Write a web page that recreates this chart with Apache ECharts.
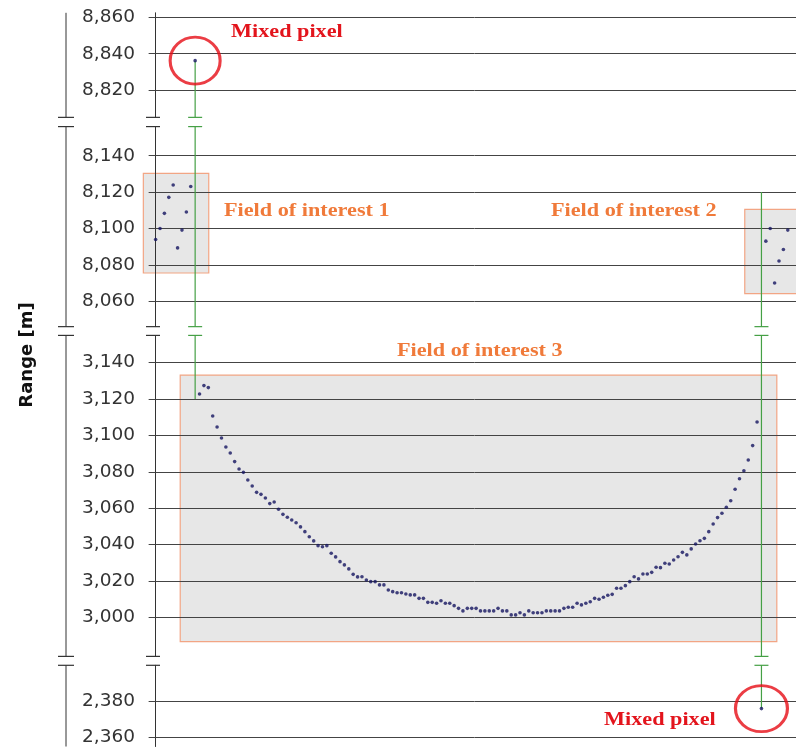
<!DOCTYPE html>
<html><head><meta charset="utf-8">
<script src="https://cdn.jsdelivr.net/npm/echarts@6/dist/echarts.min.js"></script>
<style>html,body{margin:0;padding:0;background:#fff}#c{width:796px;height:747px}</style>
</head><body><div id="c"></div>
<script>
// ---------------- data (sample index along scan, range in metres) ----------------
const field1Start = 0;
const field1Range = [8093.9, 8100.0, 8108.3, 8117.1, 8123.9, 8089.3, 8099.1, 8109.0, 8123.1];
const mixedTopIndex = 9;
const mixedTopRange = 8836.2;
const curveStart = 10;
const curveRange = [
  3122.8, 3127.4, 3126.3, 3110.7, 3104.6, 3098.6, 3093.6, 3090.3, 3085.6, 3081.5,
  3079.7, 3075.5, 3072.2, 3068.7, 3067.6, 3065.6, 3062.5, 3063.4, 3059.4, 3056.6,
  3055.0, 3053.5, 3052.0, 3049.7, 3047.1, 3044.3, 3042.0, 3039.4, 3038.8, 3039.4,
  3035.2, 3033.2, 3030.6, 3028.8, 3026.6, 3023.6, 3022.2, 3022.3, 3020.5, 3019.6,
  3019.6, 3017.8, 3017.8, 3015.0, 3014.1, 3013.5, 3013.5, 3012.8, 3012.3, 3012.3,
  3010.4, 3010.4, 3008.2, 3008.2, 3007.7, 3009.1, 3007.7, 3007.7, 3006.4, 3004.9,
  3003.5, 3004.9, 3004.9, 3004.9, 3003.5, 3003.5, 3003.5, 3003.5, 3004.9, 3003.5,
  3003.5, 3001.3, 3001.3, 3002.5, 3001.3, 3003.5, 3002.5, 3002.5, 3002.5, 3003.5,
  3003.5, 3003.5, 3003.5, 3004.9, 3005.5, 3005.5, 3007.7, 3006.8, 3007.7, 3008.5,
  3010.4, 3009.9, 3011.0, 3012.1, 3012.6, 3016.0, 3016.0, 3017.4, 3019.6, 3022.3,
  3021.1, 3023.8, 3023.8, 3024.7, 3027.5, 3027.3, 3029.7, 3029.3, 3031.5, 3033.3,
  3035.7, 3034.3, 3037.6, 3040.3, 3042.1, 3043.4, 3047.1, 3051.3, 3054.8, 3057.2,
  3060.5, 3064.1, 3070.4, 3076.2, 3080.6, 3086.5, 3094.4, 3107.4
];
const mixedBottomIndex = 138;
const mixedBottomRange = 2376.0;
const field2Start = 139;
const field2Range = [8093.0, 8100.0, 8070.0, 8082.1, 8088.4, 8099.1];

// jump lines (index, from, to)
const jumpIndex = [9, 138];
const jumpFrom = [8836.2, 8120];
const jumpTo = [3120, 2376.0];

// broken axis panels
const panelMin = [8805, 8046, 2978.5, 2355];
const panelMax = [8862.5, 8156, 3155, 2400];
const panelTicks = [
  [8820, 8840, 8860],
  [8060, 8080, 8100, 8120, 8140],
  [3000, 3020, 3040, 3060, 3080, 3100, 3120, 3140],
  [2360, 2380]
];

// fields of interest: panel, x extent, range extent
const boxPanel = [1, 1, 2];
const boxX0 = [-2.8, 134.2, 5.6];
const boxX1 = [12.1, 150, 141.5];
const boxY0 = [8075.5, 8064.2, 2986.6];
const boxY1 = [8130.3, 8110.5, 3133.2];
const boxLabels = ['Field of interest 1', 'Field of interest 2', 'Field of interest 3'];
const mixedLabel = 'Mixed pixel';
const yTitle = 'Range [m]';

// ---------------- layout ----------------
const PX_PER_M = 1.8186;
const gridTops = [12.8, 126.6, 335.4, 665.3];
const gridLeft = 153;
const xMin = -0.6, xMax = 145.87;

const samples = [];
field1Range.forEach((v, i) => samples.push([field1Start + i, v]));
curveRange.forEach((v, i) => samples.push([curveStart + i, v]));
field2Range.forEach((v, i) => samples.push([field2Start + i, v]));
samples.push([mixedTopIndex, mixedTopRange]);
samples.push([mixedBottomIndex, mixedBottomRange]);

const fmt = v => Number(v).toLocaleString('en-US');

const grids = [], xAxes = [], yAxes = [], series = [];
for (let p = 0; p < 4; p++) {
  const h = (panelMax[p] - panelMin[p]) * PX_PER_M;
  grids.push({ left: gridLeft, right: 0, top: gridTops[p], height: h, containLabel: false });
  xAxes.push({ type: 'value', gridIndex: p, min: xMin, max: xMax, show: false });
  yAxes.push({
    type: 'value', gridIndex: p, min: panelMin[p], max: panelMax[p], position: 'left',
    axisLine: { show: true, lineStyle: { color: '#333', width: 1 } },
    axisTick: { show: true, inside: false, length: 7, customValues: panelTicks[p], lineStyle: { color: '#444' } },
    axisLabel: { customValues: panelTicks[p], formatter: fmt, margin: 18, color: '#333',
      fontFamily: 'DejaVu Sans', fontSize: 18.5 },
    splitLine: { show: true, lineStyle: { color: '#444', width: 1 } }
  });
  // field boxes
  const bd = [];
  boxPanel.forEach((bp, i) => { if (bp === p) bd.push([boxX0[i], boxX1[i], boxY0[i], boxY1[i]]); });
  if (bd.length) {
    series.push({
      type: 'custom', xAxisIndex: p, yAxisIndex: p, z: -1, clip: false, silent: true,
      encode: { x: [0, 1], y: [2, 3] },
      data: bd,
      renderItem: (params, api) => {
        const a = api.coord([api.value(0), api.value(3)]);
        const b = api.coord([api.value(1), api.value(2)]);
        return { type: 'rect', shape: { x: a[0], y: a[1], width: b[0] - a[0], height: b[1] - a[1] },
          style: { fill: '#e7e7e7', stroke: '#f2a584', lineWidth: 1.2 } };
      }
    });
  }
  // jump lines
  jumpIndex.forEach((ix, j) => {
    const hi = Math.min(Math.max(jumpFrom[j], jumpTo[j]), panelMax[p]);
    const lo = Math.max(Math.min(jumpFrom[j], jumpTo[j]), panelMin[p]);
    if (hi > lo) {
      series.push({ type: 'line', xAxisIndex: p, yAxisIndex: p, symbol: 'none', silent: true,
        lineStyle: { color: '#45a045', width: 1.2 }, data: [[ix, hi], [ix, lo]], z: 1 });
    }
  });
  // points
  series.push({
    type: 'scatter', xAxisIndex: p, yAxisIndex: p, symbolSize: 3.6,
    itemStyle: { color: '#151560' }, z: 3,
    data: samples.filter(s => s[1] >= panelMin[p] && s[1] <= panelMax[p])
  });
}
// mixed pixel circles
series.push({ type: 'scatter', xAxisIndex: 0, yAxisIndex: 0, clip: false, symbol: 'circle', symbolSize: [50, 47], z: 4,
  itemStyle: { color: 'rgba(0,0,0,0)', borderColor: '#e60d15', borderWidth: 3 }, data: [[mixedTopIndex, mixedTopRange]] });
series.push({ type: 'scatter', xAxisIndex: 3, yAxisIndex: 3, clip: false, symbol: 'circle', symbolSize: [52, 46], z: 4,
  itemStyle: { color: 'rgba(0,0,0,0)', borderColor: '#e60d15', borderWidth: 3 }, data: [[mixedBottomIndex, mixedBottomRange]] });

const chart = echarts.init(document.getElementById('c'), null, { renderer: 'canvas' });
chart.setOption({ animation: false, backgroundColor: '#fff', grid: grids, xAxis: xAxes, yAxis: yAxes, series: series });

// ---------------- decorations: outer axis, break marks, texts ----------------
const g = [];
const serifText = (txt, x, y, color) => ({ type: 'text', x: x, y: y, scaleX: 1.17, z: 10,
  style: { text: txt, fill: color, fontFamily: 'Liberation Serif', fontWeight: 'bold', fontSize: 19, align: 'left', verticalAlign: 'middle' } });
const brk = (cx, y, hw, color) => ({ type: 'line', z: 10, shape: { x1: cx - hw, y1: y, x2: cx + hw, y2: y }, style: { stroke: color, lineWidth: 1.2 } });
const OUTER_X = 66;
const bottoms = [];
for (let p = 0; p < 4; p++) {
  const top = chart.convertToPixel({ yAxisIndex: p }, panelMax[p]);
  const bot = chart.convertToPixel({ yAxisIndex: p }, panelMin[p]);
  bottoms.push([top, bot]);
  g.push({ type: 'line', z: 10, shape: { x1: OUTER_X, y1: top, x2: OUTER_X, y2: bot }, style: { stroke: '#333', lineWidth: 1 } });
}
for (let p = 0; p < 3; p++) {
  const yA = bottoms[p][1], yB = bottoms[p + 1][0];
  [yA, yB].forEach(y => {
    g.push(brk(OUTER_X, y, 8, '#333'));
    g.push(brk(gridLeft, y, 7, '#333'));
  });
  const boundary = (panelMin[p] + panelMax[p + 1]) / 2;
  jumpIndex.forEach((ix, j) => {
    const hi = Math.max(jumpFrom[j], jumpTo[j]), lo = Math.min(jumpFrom[j], jumpTo[j]);
    if (hi > boundary && lo < boundary) {
      const gx = chart.convertToPixel({ xAxisIndex: 0 }, ix);
      g.push(brk(gx, yA, 7, '#45a045'));
      g.push(brk(gx, yB, 7, '#45a045'));
    }
  });
}
g.push(serifText(mixedLabel, 231, 32, '#e3141c'));
g.push(serifText(mixedLabel, 604, 720, '#e3141c'));
g.push(serifText(boxLabels[0], 224, 211, '#f07a3a'));
g.push(serifText(boxLabels[1], 551, 211, '#f07a3a'));
g.push(serifText(boxLabels[2], 397, 351, '#f07a3a'));
g.push({ type: 'text', x: 27, y: 355, rotation: Math.PI / 2, z: 10,
  style: { text: yTitle, fill: '#111', fontFamily: 'DejaVu Sans', fontWeight: 'bold', fontSize: 18, align: 'center', verticalAlign: 'middle' } });
chart.setOption({ graphic: g });
</script>
</body></html>
